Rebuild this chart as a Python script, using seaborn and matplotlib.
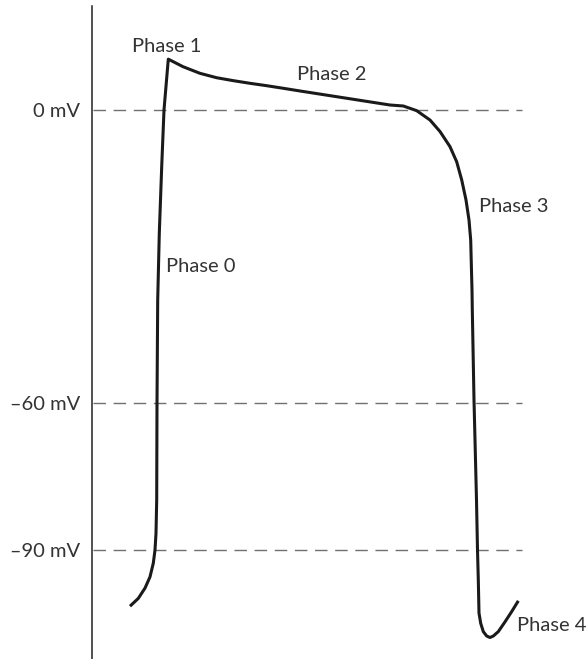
import numpy as np
import pandas as pd
import matplotlib
matplotlib.use("Agg")
import matplotlib.pyplot as plt
import seaborn as sns

# Cardiac action potential (schematic), time in ms, membrane potential in mV
time_ms = [38, 46.3, 53, 58, 61.3, 63, 64, 64.7, 65, 65.7, 67.3, 69.7, 72, 76.3,
           91, 108, 124.7, 141.3, 158, 174.7, 191.3, 208, 298, 311.3, 324.7,
           338, 348, 358, 364.7, 369.7, 374, 377, 378.7, 379.3, 380, 380.3,
           382, 384.5, 385.5, 386.3, 387, 388.7, 391.3, 394.7, 398, 401.3,
           406.3, 413, 419.7, 426.3]
voltage_mv = [-101.5, -99.9, -97.8, -95.5, -92.7, -90.0, -86.6, -79.8, -60.0, -38.9,
              -25.2, -11.6, 0.0, 10.4,
              8.86, 7.5, 6.6, 6.0, 5.46, 4.97, 4.44, 3.89, 1.02, 0.82, -0.14,
              -2.05, -4.4, -7.5, -10.6, -14.3, -18.4, -22.5, -26.6, -31.4, -36.8, -40.9,
              -59.3, -79.8, -90.0, -96.1, -102.9, -105.0, -106.7, -107.6, -107.9, -107.6,
              -106.7, -104.7, -102.6, -100.4]

ref_levels = [0, -60, -90]
ref_labels = ["0 mV", "\u201360 mV", "\u201390 mV"]

phase_names = ["Phase 0", "Phase 1", "Phase 2", "Phase 3", "Phase 4"]
phase_t = [74, 40, 205, 387, 425]
phase_v = [-32.1, 13.0, 7.2, -19.8, -105.5]

df = pd.DataFrame({"t": time_ms, "v": voltage_mv})

sns.set_style("white")
plt.rcParams["font.family"] = ["Lato", "DejaVu Sans"]

fig = plt.figure(figsize=(5.86, 6.59), dpi=100)
ax = fig.add_axes([0, 0, 1, 1])

# dashed reference levels
ax.hlines(ref_levels, 1, 430, colors="#707070", linewidth=1.0,
          linestyles=(0, (9, 5.5)))

sns.lineplot(data=df, x="t", y="v", sort=False, estimator=None,
             color="#1a1a1a", linewidth=2.2, ax=ax)
ax.lines[-1].set_solid_joinstyle("round")
ax.lines[-1].set_solid_capstyle("butt")

for name, t, v in zip(phase_names, phase_t, phase_v):
    ax.text(t, v, name, ha="left", va="center", fontsize=14.5, color="#333333")

ax.set_xlim(-92, 494)
ax.set_ylim(-112.3, 22.5)

for s in ["top", "right", "bottom"]:
    ax.spines[s].set_visible(False)
ax.spines["left"].set_position(("data", 0))
ax.spines["left"].set_bounds(-112.3, 21.3)
ax.spines["left"].set_color("#222222")
ax.spines["left"].set_linewidth(1.1)

ax.set_xticks([])
ax.set_yticks(ref_levels)
ax.set_yticklabels(ref_labels)
ax.tick_params(axis="y", length=0, pad=8.6, labelsize=14.5, labelcolor="#333333")
ax.set_xlabel("")
ax.set_ylabel("")

fig.savefig("out.png", dpi=100)
